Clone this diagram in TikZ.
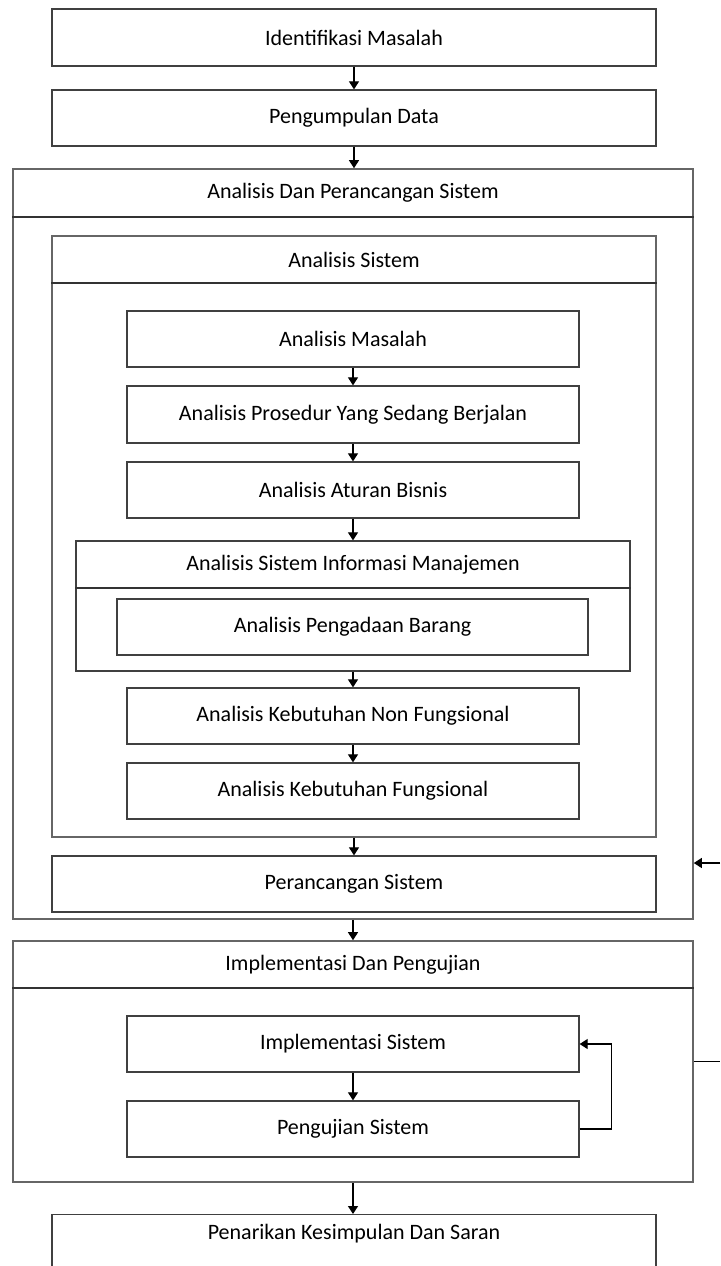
\documentclass[tikz,border=0pt]{standalone}
\usepackage{fontspec}
\setmainfont{Carlito}
\usetikzlibrary{arrows.meta,calc}
\begin{document}
\begin{tikzpicture}[x=0.5pt,y=-0.5pt,
  every node/.style={font=\fontsize{11}{13}\selectfont},
  box/.style={draw=black!75,line width=0.65pt,inner sep=0pt,minimum height=28pt},
  wide/.style={box,minimum width=302pt},
  mid/.style={box,minimum width=226pt},
  frame/.style={draw=black!60,line width=0.8pt,inner sep=0pt},
  lbl/.style={inner sep=0pt},
  div/.style={draw=black!80,line width=0.65pt},
  arr/.style={draw=black,line width=0.6pt,-{Triangle[length=4pt,width=5pt]}},
  ln/.style={draw=black,line width=0.6pt}]
\useasboundingbox (0,0) rectangle (720,1266);
\clip (0,0) rectangle (720,1266);

% top boxes
\node[wide,minimum height=28.5pt] (b1) at (354,37.5) {Identifikasi Masalah};
\node[wide] (b2) at (354,118) {Pengumpulan Data};

% Analisis Dan Perancangan Sistem container
\node[frame,minimum width=340pt,minimum height=375pt] (adps) at (353,544) {};
\node[lbl] (adpsT) at (353,193) {Analisis Dan Perancangan Sistem};
\draw[div] (adps.west |- 0,217) -- (adps.east |- 0,217);

% Analisis Sistem container
\node[frame,minimum width=302pt,minimum height=300.5pt] (as) at (354,536.5) {};
\node[lbl] (asT) at (354,259.5) {Analisis Sistem};
\draw[div] (as.west |- 0,283) -- (as.east |- 0,283);

\node[mid] (am) at (353,339) {Analisis Masalah};
\node[mid,minimum height=28.5pt] (ap) at (353,414.5) {Analisis Prosedur Yang Sedang Berjalan};
\node[mid] (aab) at (353,490) {Analisis Aturan Bisnis};

% SIM container
\node[box,minimum width=277pt,minimum height=65pt] (sim) at (353,606) {};
\node[lbl] (simT) at (353,564.5) {Analisis Sistem Informasi Manajemen};
\draw[div] (sim.west |- 0,588) -- (sim.east |- 0,588);
\node[box,minimum width=235.5pt] (apb) at (352.5,627) {Analisis Pengadaan Barang};

\node[mid] (nf) at (353,716) {Analisis Kebutuhan Non Fungsional};
\node[mid] (f) at (353,791) {Analisis Kebutuhan Fungsional};

\node[wide] (per) at (354,884) {Perancangan Sistem};

% Implementasi Dan Pengujian container
\node[frame,minimum width=340pt,minimum height=120.5pt] (impl) at (353,1061.5) {};
\node[lbl] (implT) at (353,964.5) {Implementasi Dan Pengujian};
\draw[div] (impl.west |- 0,988) -- (impl.east |- 0,988);

\node[mid] (is) at (353,1044) {Implementasi Sistem};
\node[mid] (ps) at (353,1129) {Pengujian Sistem};

% last box (cut by page edge)
\node[wide,anchor=north,minimum height=0pt,inner ysep=0pt,text height=12.5pt,text depth=20pt] (pen) at (354,1214) {Penarikan Kesimpulan Dan Saran};

% connectors
\draw[arr] (b1.south) -- (b2.north);
\draw[arr] (b2.south) -- (b2.south |- adps.north);
\draw[arr] (am.south) -- (ap.north);
\draw[arr] (ap.south) -- (aab.north);
\draw[arr] (aab.south) -- (sim.north);
\draw[arr] (sim.south) -- (nf.north);
\draw[arr] (nf.south) -- (f.north);
\draw[arr] (as.south -| per.north) -- (per.north);
\draw[arr] (adps.south) -- (adps.south |- impl.north);
\draw[arr] (is.south) -- (ps.north);
\draw[arr] (impl.south) -- (impl.south |- pen.north);
\draw[arr] (ps.east) -- ++(32,0) |- (is.east);

\coordinate (r1) at (720,863);
\coordinate (r2) at (720,1061.5);
\draw[arr] (r1) -- (adps.east |- r1);
\draw[ln] (impl.east) -- (r2);
\end{tikzpicture}
\end{document}
